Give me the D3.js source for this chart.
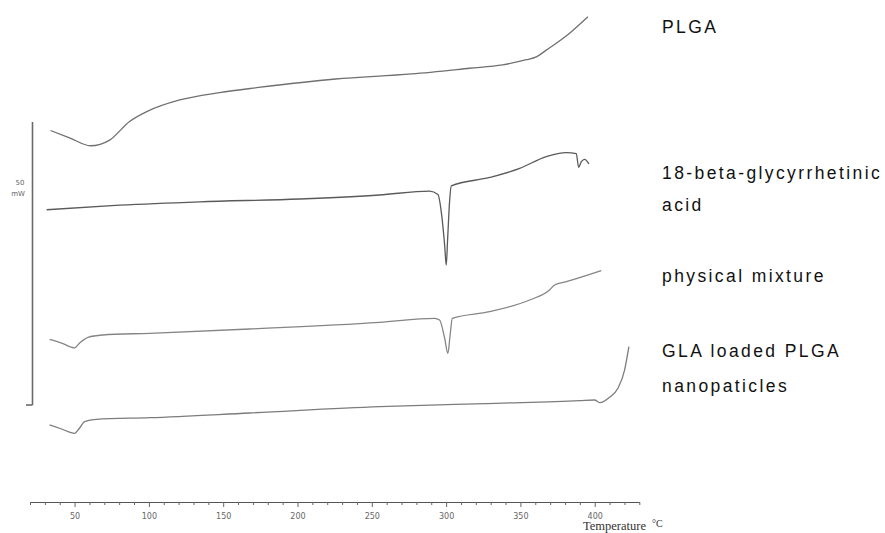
<!DOCTYPE html>
<html>
<head>
<meta charset="utf-8">
<script src="https://cdn.jsdelivr.net/npm/d3@7"></script>
<style>
  html, body { margin: 0; padding: 0; background: #fff; }
  svg { display: block; }
</style>
</head>
<body>
<svg id="chart" width="885" height="533"></svg>
<script>
// DSC thermograms: temperature (°C) against heat flow (mW, curves offset vertically)
const plgaT = [33.8, 46.6, 60.8, 73.6, 87.0, 98.2, 120.7, 147.6, 173.8, 225.6, 276.8, 315.8, 338.0, 354.0, 360.7, 367.4, 383.1, 395.4];
const plgaQ = [48.5, 47.2, 45.8, 46.8, 50.1, 51.8, 53.9, 55.2, 56.1, 57.6, 58.5, 59.5, 60.1, 61.0, 61.5, 62.7, 65.7, 68.6];

const glyT = [31.2, 80.3, 134.1, 201.4, 255.2, 288.9, 294.5, 297.0, 299.0, 300.1, 301.0, 302.4, 303.5, 329.3, 349.5, 367.4, 380.9, 387.6, 389.2, 391.0, 393.2, 396.1];
const glyQ = [34.5, 35.3, 35.9, 36.4, 37.1, 37.8, 37.2, 33.6, 28.3, 24.7, 29.2, 36.2, 38.7, 40.2, 41.8, 43.9, 44.6, 44.4, 42.0, 43.0, 43.4, 42.6];

const mixT = [33.2, 41.3, 50.0, 53.4, 59.0, 68.8, 100.5, 167.8, 255.2, 292.2, 295.6, 299.0, 301.2, 302.7, 304.2, 329.3, 356.2, 369.6, 373.0, 380.9, 404.4];
const mixQ = [11.6, 10.95, 10.1, 10.95, 11.96, 12.37, 12.67, 13.43, 14.61, 15.32, 15.02, 11.84, 9.13, 12.37, 15.32, 16.48, 18.55, 20.32, 21.2, 21.78, 23.73];

const nanoT = [33.2, 41.3, 50.0, 53.4, 56.7, 64.6, 100.5, 167.8, 255.2, 333.8, 389.8, 399.9, 403.3, 410.0, 415.6, 420.1, 423.0];
const nanoQ = [-3.53, -4.24, -5.0, -4.06, -2.95, -2.53, -2.24, -1.41, -0.3, 0.3, 0.76, 0.88, 0.41, 1.36, 2.95, 6.18, 10.3];

const seriesNames = ["PLGA", "18-beta-glycyrrhetinic acid", "physical mixture", "GLA loaded PLGA nanopaticles"];
const labelLines = [["PLGA"], ["18-beta-glycyrrhetinic", "acid"], ["physical mixture"], ["GLA loaded PLGA", "nanopaticles"]];
const labelBaselines = [33, 179, 211, 282, 357, 392];

const tickValues = d3.range(20, 431, 10);
const tickLabels = [50, 100, 150, 200, 250, 300, 350, 400];
const scaleBarMw = 50;

const svg = d3.select("#chart");

const x = d3.scaleLinear().domain([20, 430]).range([30, 639.3]);
const y = d3.scaleLinear().domain([0, 50]).range([405, 122]);

const series = [
  { name: seriesNames[0], t: plgaT, q: plgaQ, color: "#707070" },
  { name: seriesNames[1], t: glyT, q: glyQ, color: "#5a5a5a" },
  { name: seriesNames[2], t: mixT, q: mixQ, color: "#858585" },
  { name: seriesNames[3], t: nanoT, q: nanoQ, color: "#7c7c7c" }
];

const line = d3.line()
  .x(d => x(d[0]))
  .y(d => y(d[1]))
  .curve(d3.curveMonotoneX);

svg.append("g")
  .selectAll("path")
  .data(series)
  .join("path")
  .attr("d", s => line(s.t.map((t, i) => [t, s.q[i]])))
  .attr("fill", "none")
  .attr("stroke", s => s.color)
  .attr("stroke-width", 1.3)
  .attr("stroke-linejoin", "round");

// heat-flow scale bar
const bar = svg.append("g").attr("stroke", "#6a6a6a").attr("stroke-width", 1.6).attr("fill", "none");
bar.append("line").attr("x1", 32.5).attr("x2", 32.5).attr("y1", y(scaleBarMw)).attr("y2", y(0));
bar.append("line").attr("x1", 26).attr("x2", 32.5).attr("y1", y(0)).attr("y2", y(0));
svg.append("text").attr("x", 20).attr("y", 184.5).attr("text-anchor", "middle")
  .attr("font-family", "DejaVu Sans").attr("font-size", 7).attr("fill", "#666").text(scaleBarMw);
svg.append("text").attr("x", 18).attr("y", 195.5).attr("text-anchor", "middle")
  .attr("font-family", "DejaVu Sans").attr("font-size", 7).attr("fill", "#666").text("mW");

// temperature axis
const axis = d3.axisBottom(x)
  .tickValues(tickValues)
  .tickSizeOuter(0)
  .tickFormat(d => tickLabels.includes(d) ? d : "");
const gx = svg.append("g").attr("transform", "translate(0,502)").call(axis);
gx.select(".domain").attr("stroke", "#555").attr("stroke-width", 1.2);
gx.selectAll(".tick line")
  .attr("stroke", "#666")
  .attr("y2", d => tickLabels.includes(d) ? 5 : 3);
gx.selectAll(".tick text")
  .attr("y", 11)
  .attr("font-family", "DejaVu Sans")
  .attr("font-size", 8)
  .attr("fill", "#666");

svg.append("text").attr("x", 583).attr("y", 530)
  .attr("font-family", "Liberation Serif").attr("font-size", 12.5).attr("fill", "#333")
  .text("Temperature");
svg.append("text").attr("x", 652).attr("y", 527)
  .attr("font-family", "Liberation Serif").attr("font-size", 10).attr("fill", "#333")
  .text("°C");

// series labels
const flatLines = labelLines.flat();
svg.append("g")
  .selectAll("text")
  .data(flatLines)
  .join("text")
  .attr("x", 662)
  .attr("y", (d, i) => labelBaselines[i])
  .attr("font-family", "Liberation Sans, Arial, sans-serif")
  .attr("font-size", 17.5)
  .attr("letter-spacing", 2.4)
  .attr("fill", "#111")
  .text(d => d);
</script>
</body>
</html>
